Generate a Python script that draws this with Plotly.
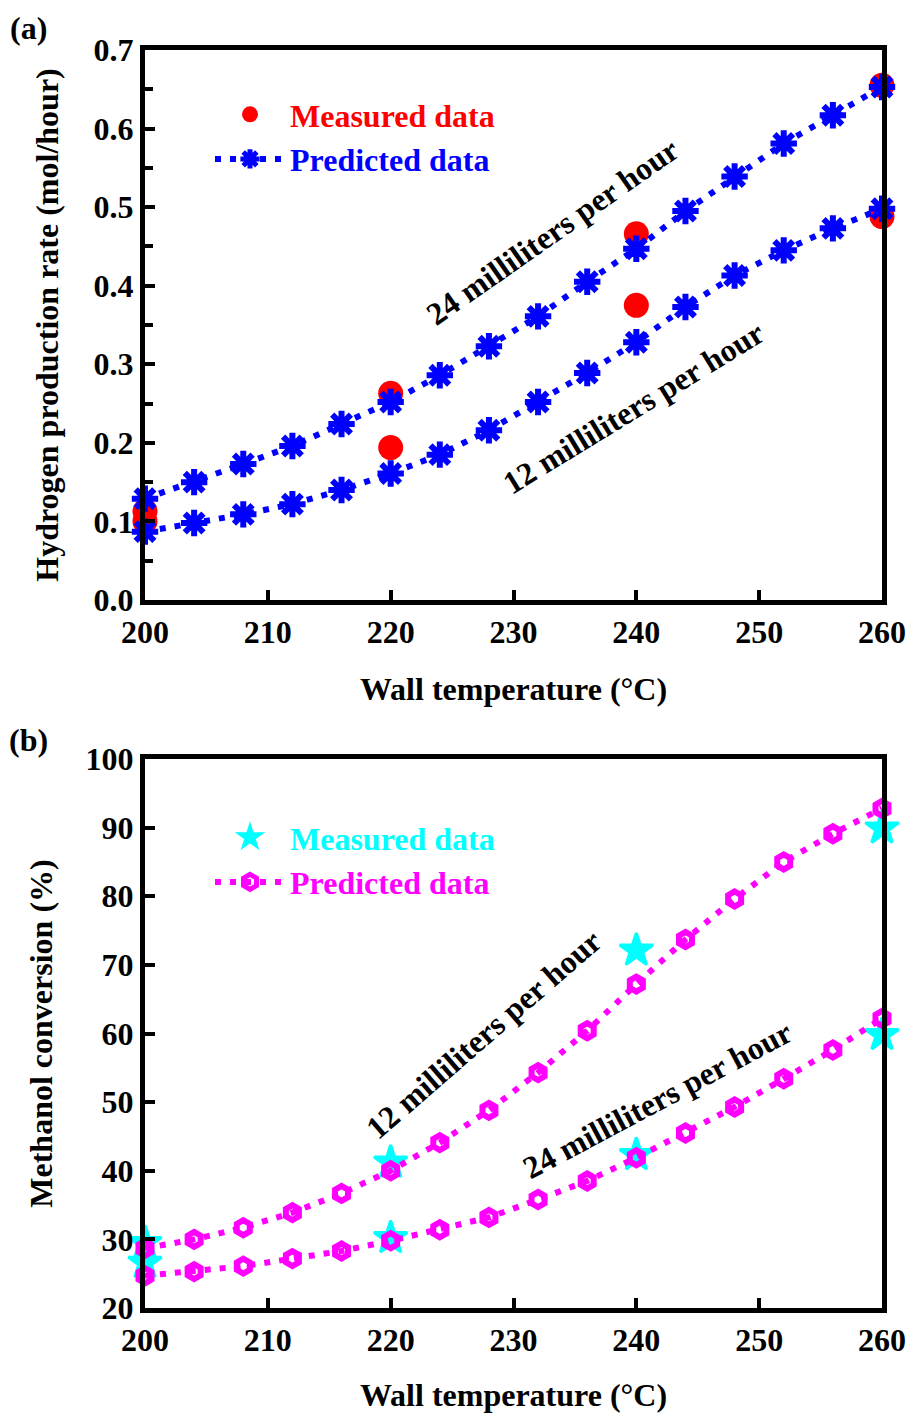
import plotly.graph_objects as go

W, H = 909, 1414

# ---------------- data ----------------
temp_pred = [200, 204, 208, 212, 216, 220, 224, 228, 232, 236, 240, 244, 248, 252, 256, 260]
temp_meas = [200, 220, 240, 260]

# (a) hydrogen production rate (mol/hour)
h2_pred_24 = [0.129, 0.150, 0.173, 0.196, 0.224, 0.252, 0.286, 0.323, 0.361, 0.405, 0.447, 0.495, 0.539, 0.581, 0.617, 0.653]
h2_pred_12 = [0.087, 0.098, 0.109, 0.122, 0.140, 0.161, 0.185, 0.216, 0.252, 0.289, 0.328, 0.373, 0.413, 0.445, 0.473, 0.498]
h2_meas_24 = [0.113, 0.263, 0.466, 0.655]
h2_meas_12 = [0.100, 0.194, 0.375, 0.488]

# (b) methanol conversion (%)
conv_pred_12 = [28.7, 30.0, 31.7, 33.9, 36.7, 40.0, 44.1, 48.8, 54.3, 60.4, 67.2, 73.7, 79.6, 85.0, 89.1, 92.8]
conv_pred_24 = [24.7, 25.3, 26.1, 27.2, 28.3, 29.8, 31.4, 33.2, 35.8, 38.5, 41.9, 45.5, 49.3, 53.4, 57.6, 62.2]
conv_meas_12 = [29.5, 41.2, 72.1, 89.9]
conv_meas_24 = [26.6, 30.2, 42.3, 59.8]

x_ticks = [200, 210, 220, 230, 240, 250, 260]

FONT = "Liberation Serif"
FS = 32


def px(x):
    return x / W


def py(y):
    return 1 - y / H


fig = go.Figure()

# ---------- panel (a) ----------
fig.add_trace(go.Scatter(
    x=temp_meas, y=h2_meas_24, mode="markers", name="<span style='color:#ff0000'>Measured data</span>",
    marker=dict(symbol="circle", size=25, color="#ff0000", line=dict(width=0)),
    xaxis="x", yaxis="y", legend="legend", cliponaxis=False))
fig.add_trace(go.Scatter(
    x=temp_meas, y=h2_meas_12, mode="markers", showlegend=False,
    marker=dict(symbol="circle", size=25, color="#ff0000", line=dict(width=0)),
    xaxis="x", yaxis="y", cliponaxis=False))

fig.add_trace(go.Scatter(
    x=temp_pred, y=h2_pred_24, mode="lines+markers", name="<span style='color:#0000ff'>Predicted data</span>",
    line=dict(color="#0000ff", width=6, dash="6px,9px"),
    marker=dict(symbol="asterisk-open", size=22, color="#0000ff", line=dict(width=6, color="#0000ff")),
    xaxis="x", yaxis="y", legend="legend", cliponaxis=False))
fig.add_trace(go.Scatter(
    x=temp_pred, y=h2_pred_12, mode="lines+markers", showlegend=False,
    line=dict(color="#0000ff", width=6, dash="6px,9px"),
    marker=dict(symbol="asterisk-open", size=22, color="#0000ff", line=dict(width=6, color="#0000ff")),
    xaxis="x", yaxis="y", cliponaxis=False))

# ---------- panel (b) ----------
fig.add_trace(go.Scatter(
    x=temp_meas, y=conv_meas_12, mode="markers", name="<span style='color:#00ffff'>Measured data</span>",
    marker=dict(symbol="star", size=25, color="#00ffff", line=dict(width=3, color="#00ffff")),
    xaxis="x2", yaxis="y2", legend="legend2", cliponaxis=False))
fig.add_trace(go.Scatter(
    x=temp_meas, y=conv_meas_24, mode="markers", showlegend=False,
    marker=dict(symbol="star", size=25, color="#00ffff", line=dict(width=3, color="#00ffff")),
    xaxis="x2", yaxis="y2", cliponaxis=False))

fig.add_trace(go.Scatter(
    x=temp_pred, y=conv_pred_12, mode="lines+markers", name="<span style='color:#ff00ff'>Predicted data</span>",
    line=dict(color="#ff00ff", width=6, dash="6px,9px"),
    marker=dict(symbol="hexagon-open", size=15, color="#ff00ff", line=dict(width=6, color="#ff00ff")),
    xaxis="x2", yaxis="y2", legend="legend2", cliponaxis=False))
fig.add_trace(go.Scatter(
    x=temp_pred, y=conv_pred_24, mode="lines+markers", showlegend=False,
    line=dict(color="#ff00ff", width=6, dash="6px,9px"),
    marker=dict(symbol="hexagon-open", size=15, color="#ff00ff", line=dict(width=6, color="#ff00ff")),
    xaxis="x2", yaxis="y2", cliponaxis=False))

tickfont = dict(family=FONT, size=FS, color="black", weight="bold")
titlefont = dict(family=FONT, size=FS, color="black", weight="bold")

common = dict(showline=True, mirror=True, linewidth=5, linecolor="black",
              ticks="inside", tickwidth=4, ticklen=10, tickcolor="black",
              showgrid=False, zeroline=False, tickfont=tickfont, automargin=False)

xdom = [px(145), px(882)]

fig.update_layout(
    width=W, height=H,
    margin=dict(l=0, r=0, t=0, b=0, autoexpand=False),
    paper_bgcolor="white", plot_bgcolor="white",
    showlegend=True,
    xaxis=dict(domain=xdom, anchor="y", range=[200, 260], tickvals=x_ticks,
               title=dict(text="Wall temperature (°C)", font=titlefont, standoff=30), **common),
    yaxis=dict(domain=[py(600), py(50)], anchor="x", range=[0, 0.7], dtick=0.1, tickformat=".1f",
               minor=dict(dtick=0.05, ticks="inside", ticklen=8, tickwidth=4, tickcolor="black"),
               title=dict(text="Hydrogen production rate (mol/hour)", font=titlefont, standoff=27), **common),
    xaxis2=dict(domain=xdom, anchor="y2", range=[200, 260], tickvals=x_ticks,
                title=dict(text="Wall temperature (°C)", font=titlefont, standoff=28), **common),
    yaxis2=dict(domain=[py(1308), py(759)], anchor="x2", range=[20, 100], dtick=10,
                title=dict(text="Methanol conversion (%)", font=titlefont, standoff=25), **common),
    legend=dict(x=px(210), y=py(87), xanchor="left", yanchor="top", bgcolor="rgba(0,0,0,0)",
                font=dict(family=FONT, size=FS, weight="bold"), itemwidth=70),
    legend2=dict(x=px(210), y=py(810), xanchor="left", yanchor="top", bgcolor="rgba(0,0,0,0)",
                 font=dict(family=FONT, size=FS, weight="bold"), itemwidth=70),
)

ann_font = dict(family=FONT, size=FS, color="black", weight="bold")
annotations = [
    dict(text="(a)", x=px(28), y=py(28)),
    dict(text="(b)", x=px(28), y=py(740)),
    dict(text="24 milliliters per hour", x=px(552), y=py(232), textangle=-35),
    dict(text="12 milliliters per hour", x=px(633), y=py(408), textangle=-31.5),
    dict(text="12 milliliters per hour", x=px(484), y=py(1034), textangle=-41),
    dict(text="24 milliliters per hour", x=px(657), y=py(1100), textangle=-28),
]
for a in annotations:
    fig.add_annotation(xref="paper", yref="paper", showarrow=False, font=ann_font,
                       xanchor="center", yanchor="middle", **a)

fig.write_html("out.html")
